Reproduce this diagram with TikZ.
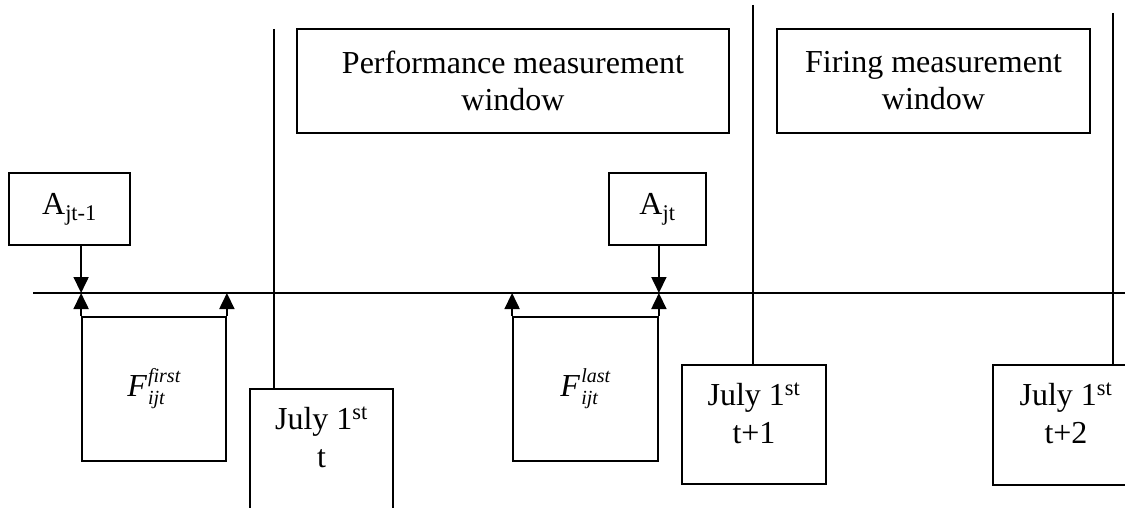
\documentclass[tikz,border=0pt]{standalone}
\usepackage{fontspec}
\setmainfont{Liberation Serif}
\usetikzlibrary{arrows.meta}

% italic F with a stacked superscript and subscript
\newcommand\fstack[2]{\textit{F}\hspace{1pt}%
  \rlap{\raisebox{14pt}{\fontsize{20}{20}\selectfont\textit{#1}}}%
  \rlap{\raisebox{-8pt}{\fontsize{20}{20}\selectfont\textit{#2}}}%
  \hphantom{\fontsize{20}{20}\selectfont\textit{#1}}}

\begin{document}
\begin{tikzpicture}[x=1pt,y=-1pt,
  line width=1.8pt,
  txt/.style={font=\fontsize{32}{37}\selectfont, align=center},
  box/.style={draw, line width=1.8pt, inner sep=0pt},
  tip/.style={-{Triangle[length=16pt,width=15pt]}}
]
\useasboundingbox (0,0) rectangle (1125,508);
\clip (0,0) rectangle (1125,508);

% measurement windows
\node[box, txt, minimum width=432pt, minimum height=104pt] (perf) at (513,81)
  {Performance measurement\\window};
\node[box, txt, minimum width=313pt, minimum height=104pt] (fire) at (933.5,81)
  {Firing measurement\\window};

% announcement boxes
\node[box, txt, minimum width=121pt, minimum height=72pt] (a1) at (69.5,209)
  {A\textsubscript{jt-1}};
\node[box, txt, minimum width=97pt, minimum height=72pt] (a2) at (657.5,209)
  {A\textsubscript{jt}};

% first and last firing boxes
\node[box, txt, minimum width=144pt, minimum height=144pt] (f1) at (154,389)
  {\fstack{first}{ijt}};
\node[box, txt, minimum width=145pt, minimum height=144pt] (f2) at (585.5,389)
  {\fstack{last}{ijt}};

% July 1st boxes
\node[box, minimum width=143pt, minimum height=151pt] (jb0) at (321.5,464.5) {};
\node[box, minimum width=144pt, minimum height=119pt] (jb1) at (754,424.5) {};
\node[box, minimum width=146pt, minimum height=120pt] (jb2) at (1066,425) {};
\node[txt, anchor=base] (j0a) at (321.5,429) {July 1\textsuperscript{st}};
\node[txt, anchor=base] (j0b) at (321.5,467) {t};
\node[txt, anchor=base] (j1a) at (754,405) {July 1\textsuperscript{st}};
\node[txt, anchor=base] (j1b) at (754,443) {t+1};
\node[txt, anchor=base] (j2a) at (1066,405) {July 1\textsuperscript{st}};
\node[txt, anchor=base] (j2b) at (1066,443) {t+2};

% time line
\coordinate (tlL) at (33,293);
\coordinate (tlR) at (1125,293);
\draw (tlL) -- (tlR);

% year boundaries
\coordinate (v0) at (274,29);
\coordinate (v1) at (753,5);
\coordinate (v2) at (1113,13);
\draw (v0) -- (v0 |- jb0.north);
\draw (v1) -- (v1 |- jb1.north);
\draw (v2) -- (v2 |- jb2.north);

% arrows onto the time line
\draw[tip] (a1.south -| f1.north west) -- (tlL -| f1.north west);
\draw[tip] (f1.north west) -- (tlL -| f1.north west);
\draw[tip] (f1.north east) -- (tlL -| f1.north east);
\draw[tip] (a2.south -| f2.north east) -- (tlL -| f2.north east);
\draw[tip] (f2.north west) -- (tlL -| f2.north west);
\draw[tip] (f2.north east) -- (tlL -| f2.north east);
\end{tikzpicture}
\end{document}
